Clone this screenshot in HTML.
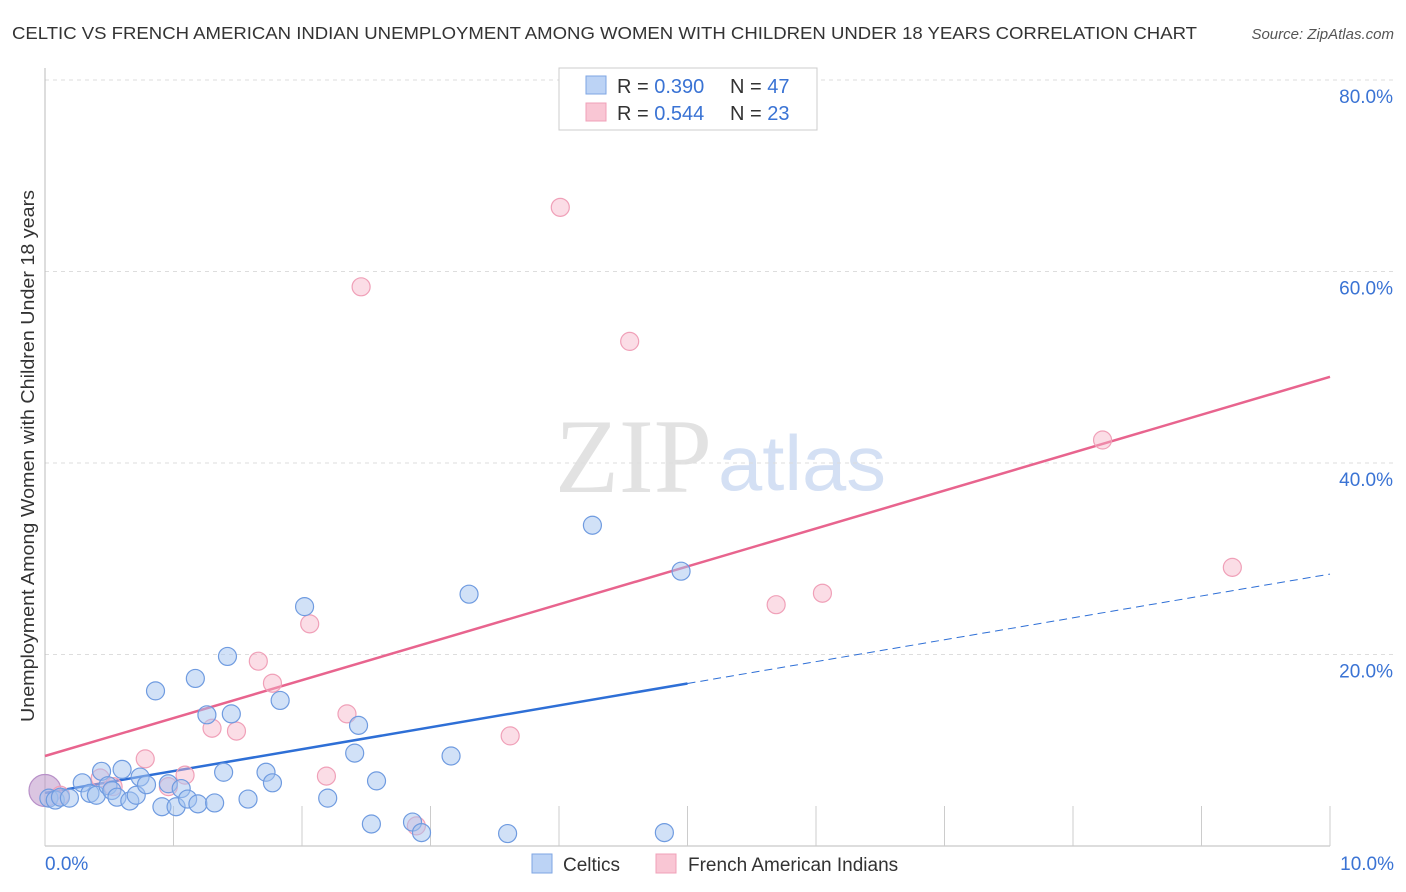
<!DOCTYPE html>
<html><head><meta charset="utf-8"><style>
body{margin:0;background:#fff;font-family:"Liberation Sans",sans-serif;}
svg{display:block}
</style></head><body>
<svg id="chart" width="1406" height="892">
<text x="12" y="39" font-size="17.5" fill="#333" textLength="1185" lengthAdjust="spacingAndGlyphs">CELTIC VS FRENCH AMERICAN INDIAN UNEMPLOYMENT AMONG WOMEN WITH CHILDREN UNDER 18 YEARS CORRELATION CHART</text>
<text x="1394" y="39" font-size="15" fill="#555" font-style="italic" text-anchor="end">Source: ZipAtlas.com</text>
<text x="555" y="492" font-size="106" fill="#e2e2e2" font-family="Liberation Serif,serif" textLength="157" lengthAdjust="spacingAndGlyphs">ZIP</text>
<text x="718" y="490" font-size="78" fill="#d4e0f4" textLength="168" lengthAdjust="spacingAndGlyphs">atlas</text>
<text transform="translate(34,456) rotate(-90)" font-size="18" fill="#333" text-anchor="middle" textLength="532" lengthAdjust="spacingAndGlyphs">Unemployment Among Women with Children Under 18 years</text>
<g id="grid"></g><g id="axes"></g><g id="lines"></g><g id="pts"></g>
<g>
<rect x="559" y="68" width="258" height="62" fill="#fff" stroke="#ccc"/>
<rect x="586" y="76" width="20" height="18" fill="#bcd3f5" stroke="#7ea6e3"/>
<rect x="586" y="103" width="20" height="18" fill="#f9c6d4" stroke="#f0a0b8"/>
<text x="617" y="93" font-size="20" fill="#333">R = <tspan fill="#3a73d4">0.390</tspan><tspan x="730">N = </tspan><tspan fill="#3a73d4">47</tspan></text>
<text x="617" y="120" font-size="20" fill="#333">R = <tspan fill="#3a73d4">0.544</tspan><tspan x="730">N = </tspan><tspan fill="#3a73d4">23</tspan></text>
</g>
<g>
<rect x="532" y="854" width="20" height="19" fill="#bcd3f5" stroke="#7ea6e3"/>
<text x="563" y="871" font-size="19" fill="#333">Celtics</text>
<rect x="656" y="854" width="20" height="19" fill="#f9c6d4" stroke="#f0a0b8"/>
<text x="688" y="871" font-size="19" fill="#333">French American Indians</text>
</g>
</svg>
<script>
const blueX=[0.03,0.08,0.12,0.19,0.29,0.35,0.40,0.44,0.49,0.52,0.56,0.60,0.66,0.71,0.74,0.79,0.86,0.91,0.96,1.02,1.06,1.11,1.17,1.19,1.26,1.32,1.39,1.42,1.45,1.58,1.72,1.77,1.83,2.02,2.20,2.41,2.44,2.54,2.58,2.86,2.93,3.16,3.30,3.60,4.26,4.82,4.95];
const blueY=[5.0,4.8,5.1,5.0,6.6,5.5,5.3,7.8,6.3,5.8,5.1,8.0,4.7,5.3,7.2,6.4,16.2,4.1,6.5,4.1,6.0,4.9,17.5,4.4,13.7,4.5,7.7,19.8,13.8,4.9,7.7,6.6,15.2,25.0,5.0,9.7,12.6,2.3,6.8,2.5,1.4,9.4,26.3,1.3,33.5,1.4,28.7];
const pinkX=[0.0,0.12,0.43,0.53,0.78,0.96,1.09,1.30,1.49,1.66,1.77,2.06,2.19,2.35,2.46,2.89,3.62,4.01,4.55,5.69,6.05,8.23,9.24];
const pinkY=[5.8,5.3,7.1,6.2,9.1,6.2,7.4,12.3,12.0,19.3,17.0,23.2,7.3,13.8,58.4,2.1,11.5,66.7,52.7,25.2,26.4,42.4,29.1];
const pinkBig=[1,0,0,0,0,0,0,0,0,0,0,0,0,0,0,0,0,0,0,0,0,0,0];
const yTicks=[20,40,60,80];
const xTicks=[0,1,2,3,4,5,6,7,8,9,10];
const blueTrend=[5.54,28.4]; const blueSolidEnd=5.0;
const pinkTrend=[9.4,49.0];
const X=v=>45+v*128.5, Y=v=>846-v*9.575;
const NS="http://www.w3.org/2000/svg";
function mk(p,t,a){const e=document.createElementNS(NS,t);for(const k in a)e.setAttribute(k,a[k]);document.getElementById(p).appendChild(e);return e;}
yTicks.forEach(t=>{
 const l=mk('grid','line',{x1:45,x2:1395,y1:Y(t),y2:Y(t),stroke:'#ddd','stroke-dasharray':'4,4'});
 
 
 const tx=mk('grid','text',{x:1393,y:Y(t)+23,'font-size':19,fill:'#3a73d4','text-anchor':'end'});tx.textContent=t.toFixed(1)+'%';
 
 
});
mk('axes','line',{x1:45,x2:45,y1:68,y2:846,stroke:'#bbb'});
mk('axes','line',{x1:45,x2:1330,y1:846,y2:846,stroke:'#bbb'});
xTicks.forEach(t=>{const l=mk('axes','line',{x1:X(t),x2:X(t),y1:806,y2:846,stroke:'#ccc'});
 
 });
[[0,'start'],[10,'end']].forEach(([t,a])=>{const tx=mk('axes','text',{x:t==0?X(t):1394,y:870,'font-size':19,fill:'#3a73d4','text-anchor':a});tx.textContent=t.toFixed(1)+'%';
 
 });
const bAt=x=>blueTrend[0]+(blueTrend[1]-blueTrend[0])*x/10;
let l=mk('lines','line',{x1:X(0),y1:Y(bAt(0)),x2:X(blueSolidEnd),y2:Y(bAt(blueSolidEnd)),stroke:'#2e6fd6','stroke-width':2.5});


l=mk('lines','line',{x1:X(blueSolidEnd),y1:Y(bAt(blueSolidEnd)),x2:X(10),y2:Y(bAt(10)),stroke:'#2e6fd6','stroke-width':1,'stroke-dasharray':'8,5'});


l=mk('lines','line',{x1:X(0),y1:Y(pinkTrend[0]),x2:X(10),y2:Y(pinkTrend[1]),stroke:'#e8648e','stroke-width':2.5});


pinkX.forEach((x,i)=>{const c=mk('pts','circle',{cx:X(x),cy:Y(pinkY[i]),r:pinkBig[i]?16:9,fill:pinkBig[i]?'rgba(190,150,200,0.55)':'rgba(247,180,200,0.45)',stroke:pinkBig[i]?'#b890c8':'#f0a0b8','stroke-width':1.2});
 
 });
blueX.forEach((x,i)=>{const c=mk('pts','circle',{cx:X(x),cy:Y(blueY[i]),r:9,fill:'rgba(164,196,240,0.5)',stroke:'#6f9be0','stroke-width':1.2});
 
 });
</script>
</body></html>
